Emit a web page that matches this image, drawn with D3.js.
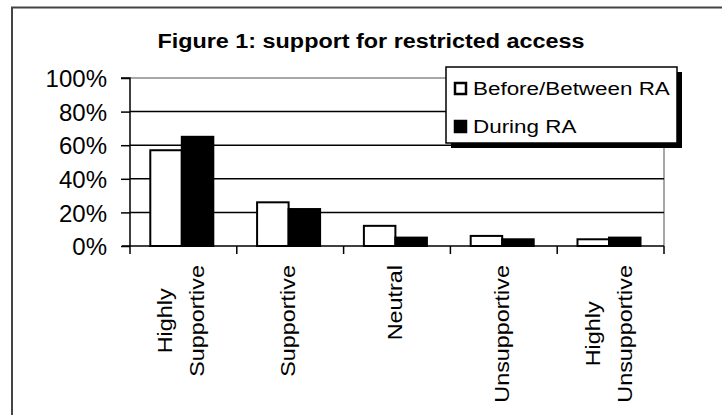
<!DOCTYPE html>
<html>
<head>
<meta charset="utf-8">
<script src="https://cdn.jsdelivr.net/npm/d3@7"></script>
<style>
  html, body { margin: 0; padding: 0; background: #fff; }
  svg { display: block; }
  text { font-family: Arial, "Liberation Sans", sans-serif; fill: #000; }
</style>
</head>
<body>
<svg id="chart" width="722" height="415"></svg>
<script>
// Attitude categories (line breaks mark the two-line axis labels)
const categories = ["Highly\nSupportive", "Supportive", "Neutral", "Unsupportive", "Highly\nUnsupportive"];
const seriesNames = ["Before/Between RA", "During RA"];
// Share of respondents, in percent
const beforeBetween = [57, 26, 12, 6, 4];
const duringRA = [65, 22, 5, 4, 5];
const yTicks = [0, 20, 40, 60, 80, 100];
const titleText = "Figure 1: support for restricted access";

const svg = d3.select("#chart");
const W = 722, H = 415;
const plot = { left: 130, right: 664, top: 78, bottom: 246 };
const fills = ["#ffffff", "#000000"];
const stretch = 1.2;   // wide lettering used for labels and legend

// Outer chart frame (continues past the window on the right and bottom)
svg.append("path")
  .attr("d", `M12,${H + 5} L12,7.5 L${W + 5},7.5`)
  .attr("fill", "none").attr("stroke", "#444").attr("stroke-width", 2);

// Title
svg.append("text")
  .attr("x", 371).attr("y", 48)
  .attr("text-anchor", "middle")
  .attr("font-weight", "bold").attr("font-size", 20)
  .attr("textLength", 427).attr("lengthAdjust", "spacingAndGlyphs")
  .text(titleText);

// Scales
const x0 = d3.scaleBand().domain(d3.range(categories.length)).range([plot.left, plot.right]).padding(0);
const bw = x0.bandwidth();
const x1 = d3.scaleBand().domain(d3.range(seriesNames.length)).range([bw * 0.19, bw * 0.78]).padding(0);
const y = d3.scaleLinear().domain([0, 100]).range([plot.bottom, plot.top]);

// Plot area border (grey top and right edge)
svg.append("path")
  .attr("d", `M${plot.left},${y(100)} L${plot.right},${y(100)} L${plot.right},${plot.bottom}`)
  .attr("fill", "none").attr("stroke", "#8a8a8a").attr("stroke-width", 1.5);

// Gridlines
svg.append("g").selectAll("line")
  .data(yTicks.filter(t => t > 0 && t < 100))
  .join("line")
  .attr("x1", plot.left).attr("x2", plot.right)
  .attr("y1", d => y(d)).attr("y2", d => y(d))
  .attr("stroke", "#000").attr("stroke-width", 1.5);

// Bars
const series = [beforeBetween, duringRA];
const groups = svg.append("g").selectAll("g")
  .data(categories.map((c, i) => i))
  .join("g")
  .attr("transform", i => `translate(${x0(i)},0)`);
groups.selectAll("rect")
  .data(i => series.map((s, k) => ({ k, v: s[i] })))
  .join("rect")
  .attr("x", d => x1(d.k))
  .attr("width", x1.bandwidth())
  .attr("y", d => y(d.v))
  .attr("height", d => y(0) - y(d.v))
  .attr("fill", d => fills[d.k])
  .attr("stroke", "#000").attr("stroke-width", 2);

// Y axis
const yAxis = d3.axisLeft(y).tickValues(yTicks).tickSize(9).tickPadding(14).tickFormat(d => d + "%");
const yg = svg.append("g").attr("transform", `translate(${plot.left},0)`).call(yAxis);
yg.select(".domain").attr("stroke", "#000").attr("stroke-width", 1.5).attr("d", `M-9,${y(100)}H0V${y(0)}`);
yg.selectAll(".tick line").attr("stroke", "#000").attr("stroke-width", 1.5);
yg.selectAll(".tick text")
  .attr("font-size", 24).attr("font-family", "Arial, 'Liberation Sans', sans-serif")
  .attr("fill", "#000").attr("dy", "0.36em");

// X axis: ticks on the category boundaries
const xg = svg.append("g");
xg.append("line")
  .attr("x1", plot.left - 8).attr("x2", plot.right)
  .attr("y1", y(0)).attr("y2", y(0))
  .attr("stroke", "#000").attr("stroke-width", 1.5);
xg.selectAll(".xt")
  .data(d3.range(categories.length + 1))
  .join("line")
  .attr("class", "xt")
  .attr("x1", i => i < categories.length ? x0(i) : plot.right)
  .attr("x2", i => i < categories.length ? x0(i) : plot.right)
  .attr("y1", y(0)).attr("y2", y(0) + 8)
  .attr("stroke", "#000").attr("stroke-width", 1.5);

// Rotated category labels: block centred on the band, lines centred, top at a common edge
const labFs = 19.5, linePitch = 32, labTop = 265;
categories.forEach((c, i) => {
  const lines = c.split("\n");
  const cx = x0(i) + bw / 2;
  const g = svg.append("g").attr("transform", `translate(${cx},${labTop}) rotate(-90)`);
  const texts = lines.map(l => g.append("text")
    .attr("font-size", labFs)
    .attr("text-anchor", "middle")
    .attr("transform", `scale(${stretch},1)`)
    .text(l));
  const maxLen = d3.max(texts, t => t.node().getComputedTextLength());
  const y0 = (0.506 * labFs - (lines.length - 1) * linePitch) / 2;
  texts.forEach((t, k) => t.attr("x", -maxLen / 2).attr("y", y0 + k * linePitch));
});

// Legend
const lg = svg.append("g").attr("transform", "translate(446,67)");
lg.append("rect").attr("x", 5).attr("y", 5).attr("width", 231).attr("height", 76).attr("fill", "#000");
lg.append("rect").attr("x", 0).attr("y", 0).attr("width", 231).attr("height", 76)
  .attr("fill", "#fff").attr("stroke", "#000").attr("stroke-width", 1.5);
seriesNames.forEach((name, k) => {
  const row = lg.append("g").attr("transform", `translate(0,${k * 38})`);
  row.append("rect").attr("x", 9).attr("y", 16).attr("width", 11).attr("height", 11)
    .attr("fill", fills[k]).attr("stroke", "#000").attr("stroke-width", 2.5);
  row.append("text")
    .attr("transform", `translate(27,28) scale(1.18,1)`)
    .attr("font-size", 19)
    .text(name);
});
</script>
</body>
</html>
